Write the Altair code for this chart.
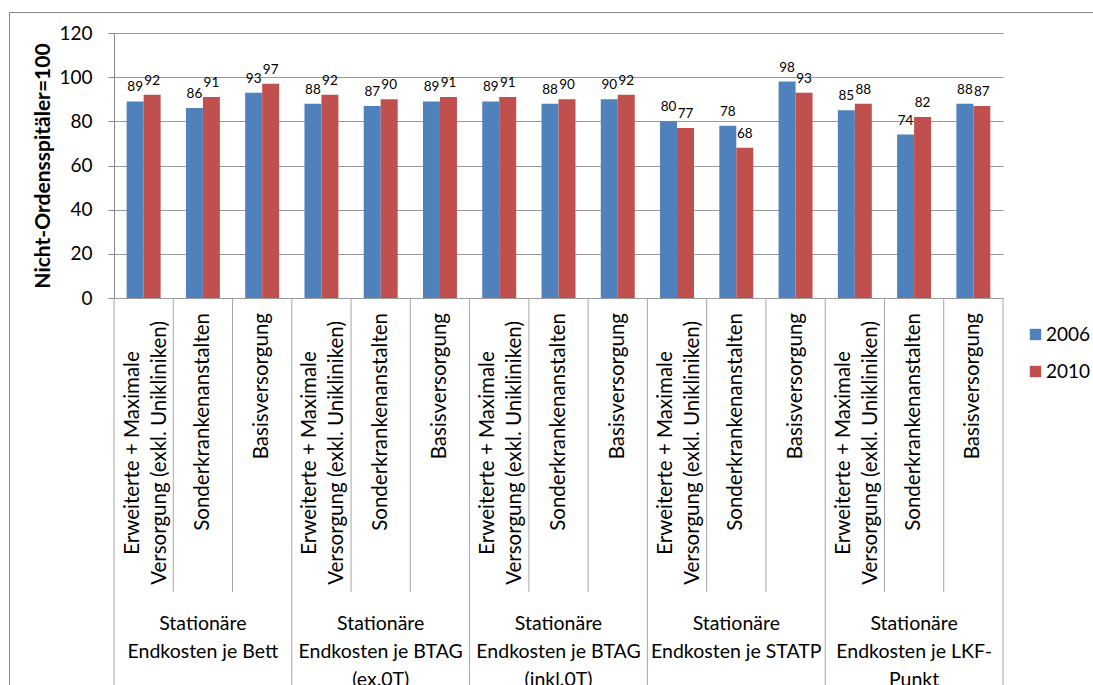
import altair as alt
import pandas as pd

groups = [
    "Stationäre\nEndkosten je Bett",
    "Stationäre\nEndkosten je BTAG\n(ex.0T)",
    "Stationäre\nEndkosten je BTAG\n(inkl.0T)",
    "Stationäre\nEndkosten je STATP",
    "Stationäre\nEndkosten je LKF-\nPunkt",
]
subcats = [
    "Erweiterte + Maximale\nVersorgung (exkl. Unikliniken)",
    "Sonderkrankenanstalten",
    "Basisversorgung",
]
years = ["2006", "2010"]
values_2006 = [89, 86, 93, 88, 87, 89, 89, 88, 90, 80, 78, 98, 85, 74, 88]
values_2010 = [92, 91, 97, 92, 90, 91, 91, 90, 92, 77, 68, 93, 88, 82, 87]
y_ticks = [0, 20, 40, 60, 80, 100, 120]

FONT = "Lato"
W, H = 889, 265
LEFT, TOP = 114, 33

cats = []
rows = []
for gi, g in enumerate(groups):
    for si, s in enumerate(subcats):
        cid = f"{gi}-{si}"
        cats.append(dict(cid=cid, group=g, sub=s, gi=gi, si=si))
        k = gi * 3 + si
        rows.append(dict(cid=cid, year="2006", value=values_2006[k]))
        rows.append(dict(cid=cid, year="2010", value=values_2010[k]))
cat_ids = [c["cid"] for c in cats]
df = pd.DataFrame(rows)
cdf = pd.DataFrame(cats)

xscale = alt.Scale(domain=cat_ids, paddingInner=0.427, paddingOuter=0.2135)
xenc = alt.X("cid:N", scale=xscale, axis=None)
rscale = alt.Scale(domain=cat_ids, paddingInner=0, paddingOuter=0)
color = alt.Color(
    "year:N",
    scale=alt.Scale(domain=years, range=["#4F81BD", "#C0504D"]),
    legend=alt.Legend(
        title=None, orient="none", legendX=912, legendY=292,
        symbolType="square", symbolSize=130, symbolStrokeWidth=0,
        labelFont=FONT, labelFontSize=19, labelColor="#000000",
        rowPadding=17, labelOffset=1, padding=0,
    ),
)

base = alt.Chart(df)

bars = base.mark_bar(stroke=None).encode(
    x=xenc,
    xOffset=alt.XOffset("year:N", scale=alt.Scale(domain=years)),
    y=alt.Y(
        "value:Q",
        scale=alt.Scale(domain=[0, 120], nice=False),
        axis=alt.Axis(
            values=y_ticks, title="Nicht-Ordensspitäler=100",
            titleFont=FONT, titleFontSize=21, titleFontWeight="bold",
            titleColor="#000000", titlePadding=5,
            labelFont=FONT, labelFontSize=19, labelColor="#000000",
            labelPadding=16, tickSize=6, tickColor="#868686",
            domainColor="#868686", gridColor="#9a9a9a", grid=True,
        ),
    ),
    color=color,
)

vlabels = base.mark_text(
    font=FONT, fontSize=13.5, baseline="alphabetic", dy=-10, color="#000000"
).encode(
    x=xenc,
    xOffset=alt.XOffset("year:N", scale=alt.Scale(domain=years)),
    y=alt.Y("value:Q"),
    text=alt.Text("value:Q"),
)

cbase = alt.Chart(cdf)

single = cbase.transform_filter("datum.si > 0").mark_text(
    font=FONT, fontSize=20.5, angle=270, align="right", baseline="middle",
    color="#000000",
).encode(x=xenc, y=alt.value(H + 15), text="sub:N")

double = cbase.transform_filter("datum.si == 0").transform_calculate(
    lines="split(datum.sub, '\\n')"
).mark_text(
    font=FONT, fontSize=20.5, angle=270, align="center", baseline="middle",
    lineHeight=27, dy=-11, color="#000000",
).encode(x=xenc, y=alt.value(453 - TOP), text="lines:N")

glabels = cbase.transform_filter("datum.si == 1").transform_calculate(
    lines="split(datum.group, '\\n')"
).mark_text(
    font=FONT, fontSize=19.5, align="center", baseline="top",
    lineHeight=28, color="#000000",
).encode(x=xenc, y=alt.value(615 - TOP), text="lines:N")

short_rules = cbase.transform_filter("datum.si > 0").mark_rule(
    color="#a6a6a6", strokeWidth=1
).encode(
    x=alt.X("cid:N", scale=rscale, axis=None, bandPosition=0),
    y=alt.value(H), y2=alt.value(592 - TOP),
)
long_rules = cbase.transform_filter("datum.si == 0").mark_rule(
    color="#a6a6a6", strokeWidth=1
).encode(
    x=alt.X("cid:N", scale=rscale, axis=None, bandPosition=0),
    y=alt.value(H), y2=alt.value(720),
)
end_rule = cbase.transform_filter("datum.gi == 4 && datum.si == 2").mark_rule(
    color="#a6a6a6", strokeWidth=1
).encode(
    x=alt.X("cid:N", scale=rscale, axis=None, bandPosition=1),
    y=alt.value(H), y2=alt.value(720),
)

border = cbase.transform_filter("datum.gi == 0 && datum.si == 0").mark_rect(
    fill=None, stroke="#868686", strokeWidth=1
).encode(
    x=alt.value(9.5 - LEFT), x2=alt.value(1200),
    y=alt.value(12.5 - TOP), y2=alt.value(800),
)

chart = alt.layer(
    border, bars, vlabels, short_rules, long_rules, end_rule,
    single, double, glabels,
).resolve_scale(x="independent").properties(
    width=W, height=H,
    autosize=alt.AutoSizeParams(type="none"),
    padding={"left": LEFT, "top": TOP, "right": 1093 - LEFT - W, "bottom": 685 - TOP - H},
    background="#ffffff",
).configure_view(stroke=None).configure_axis(domainWidth=1)

chart.save("out.html", embed_options={"renderer": "svg", "actions": False})
